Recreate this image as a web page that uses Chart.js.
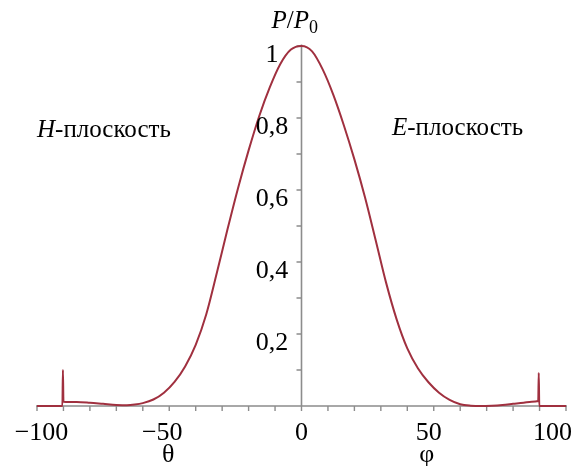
<!doctype html>
<html lang="ru">

<head>
    <meta charset="utf-8">
    <title>P/P0</title>
    <style>
        * {
            margin: 0;
            padding: 0;
        }

        body {
            background: white;
        }

        .chartBox {
            width: 574px;
            height: 466px;
        }
    </style>
</head>

<body>
    <div class="chartBox">
        <canvas id="myChart" width="574" height="466"></canvas>
    </div>
    <script src="https://cdn.jsdelivr.net/npm/chart.js"></script>
    <script>
        // angle (deg): negative side = theta (H-plane), positive = phi (E-plane)
        const angles = [
            -100, -90.4, -90.2, -90, -85, -80, -75, -70, -66, -63, -60, -56, -52, -48, -44, -40,
            -36, -32, -28, -24, -20, -16, -12, -8, -4, 0,
            4, 8, 12, 16, 20, 24, 28, 32, 36, 40, 44, 48, 52, 56,
            60, 64, 68, 72, 76, 80, 84, 87, 89.5, 89.7, 89.9, 100
        ]
        const power = [
            0, 0, 0.1, 0.012, 0.011, 0.009, 0.006, 0.003, 0.002, 0.004, 0.008, 0.018, 0.037, 0.067, 0.11, 0.17,
            0.255, 0.37, 0.49, 0.605, 0.71, 0.805, 0.885, 0.95, 0.99, 1,
            0.985, 0.935, 0.865, 0.78, 0.685, 0.58, 0.462, 0.342, 0.24, 0.16, 0.105, 0.066, 0.037, 0.017,
            0.005, 0.001, 0, 0.001, 0.003, 0.006, 0.009, 0.012, 0.014, 0.092, 0, 0
        ]

        const xTickValues = [-100, -50, 0, 50, 100]
        const xTickLabels = ['\u2212100', '\u221250', '0', '50', '100']
        const yTickValues = [0.2, 0.4, 0.6, 0.8, 1]
        const yTickLabels = ['0,2', '0,4', '0,6', '0,8', '1']

        const points = angles.map((a, i) => ({ x: a, y: power[i] }))

        const axisColor = '#8c8c8c'
        const serif = '"Liberation Serif", "DejaVu Serif", serif'

        // axes crossing at angle 0, drawn by hand through the chart scales
        let crossAxes = {
            id: 'crossAxes',
            beforeDatasetsDraw(chart) {
                const { ctx, scales: { x, y } } = chart
                const x0 = x.getPixelForValue(0)
                const yb = y.getPixelForValue(0)
                ctx.save()
                ctx.strokeStyle = axisColor
                ctx.lineWidth = 1.6
                ctx.beginPath()
                ctx.moveTo(x.getPixelForValue(-100) - 1, yb)
                ctx.lineTo(x.getPixelForValue(100) + 1, yb)
                ctx.moveTo(x0, yb)
                ctx.lineTo(x0, y.getPixelForValue(1.004))
                ctx.stroke()
                // minor ticks
                ctx.lineWidth = 1.4
                ctx.beginPath()
                for (let v = -100; v <= 100; v += 10) {
                    const px = x.getPixelForValue(v)
                    ctx.moveTo(px, yb)
                    ctx.lineTo(px, yb + 5)
                }
                for (let k = 1; k <= 10; k++) {
                    const py = y.getPixelForValue(k / 10)
                    ctx.moveTo(x0, py)
                    ctx.lineTo(x0 - 5, py)
                }
                ctx.stroke()
                ctx.restore()
            },
            afterDatasetsDraw(chart) {
                const { ctx, scales: { x, y } } = chart
                const x0 = x.getPixelForValue(0)
                const yb = y.getPixelForValue(0)
                const xShift = { '-100': 4.5, '-50': -7, '0': 0, '50': -5, '100': -13.5 }
                ctx.save()
                ctx.fillStyle = '#000'
                ctx.font = '26px ' + serif
                ctx.textAlign = 'center'
                ctx.textBaseline = 'alphabetic'
                xTickValues.forEach((v, i) => {
                    ctx.fillText(xTickLabels[i], x.getPixelForValue(v) + xShift[String(v)], yb + 34)
                })
                yTickValues.forEach((v, i) => {
                    ctx.fillText(yTickLabels[i], x0 - 29.5, y.getPixelForValue(v) + 16)
                })
                // axis names under the x axis
                ctx.fillText('\u03b8', x.getPixelForValue(-50) - 1, yb + 56)
                ctx.fillText('\u03c6', x.getPixelForValue(50) - 7, yb + 56)

                // P/P0 title
                ctx.textAlign = 'left'
                ctx.font = 'italic 25px ' + serif
                let tx = x0 - 30
                const ty = 28
                ctx.fillText('P', tx, ty)
                tx += ctx.measureText('P').width
                ctx.font = '25px ' + serif
                ctx.fillText('/', tx, ty)
                tx += ctx.measureText('/').width
                ctx.font = 'italic 25px ' + serif
                ctx.fillText('P', tx, ty)
                tx += ctx.measureText('P').width
                ctx.font = '18px ' + serif
                ctx.fillText('0', tx, ty + 5)

                // plane names
                const planeLabel = (letter, left, base) => {
                    ctx.font = 'italic 25px ' + serif
                    ctx.fillText(letter, left, base)
                    let w = ctx.measureText(letter).width
                    ctx.font = '25px ' + serif
                    ctx.fillText('-\u043f\u043b\u043e\u0441\u043a\u043e\u0441\u0442\u044c', left + w, base)
                }
                planeLabel('H', 37, 137)
                planeLabel('E', 392, 135)
                ctx.restore()
            }
        }

        const data = {
            datasets: [{
                label: 'P/P0',
                data: points,
                borderColor: '#a0303f',
                borderWidth: 2,
                pointRadius: 0,
                fill: false,
                cubicInterpolationMode: 'monotone',
                clip: false
            }]
        }

        const config = {
            type: 'line',
            data,
            options: {
                responsive: false,
                animation: false,
                devicePixelRatio: 1,
                layout: {
                    padding: { left: 37, right: 8, top: 46, bottom: 60 }
                },
                plugins: {
                    legend: { display: false },
                    tooltip: { enabled: false }
                },
                scales: {
                    x: { type: 'linear', min: -100, max: 100, display: false },
                    y: { min: 0, max: 1, display: false }
                }
            },
            plugins: [crossAxes]
        }

        const myChart = new Chart(document.getElementById('myChart'), config)
    </script>
</body>

</html>
